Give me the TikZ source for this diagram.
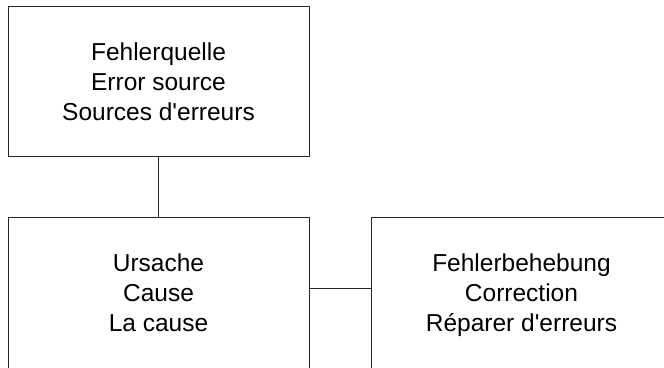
\documentclass[tikz,border=0pt]{standalone}
\usepackage{fontspec}
\setmainfont{Liberation Sans}
\newcommand\lnstrut{\rule[-6pt]{0pt}{30pt}}
\newcommand\lnstrutb{\rule[-10pt]{0pt}{30pt}}
\begin{document}
\begin{tikzpicture}[x=1pt,y=1pt,
  box/.style={draw=black!85, line width=0.9pt, minimum width=301pt, minimum height=150pt, align=center, font=\fontsize{24.5}{30}\selectfont, inner sep=0pt},
  lowbox/.style={box, minimum height=158pt},
  conn/.style={draw=black!85, line width=0.9pt}]
\useasboundingbox (0,0) rectangle (664,-367);
\node[box] (quelle) at (158.5,-81) {\lnstrut Fehlerquelle\\\lnstrut Error source\\\lnstrut Sources d\textquotesingle erreurs};
\node[lowbox] (ursache) at (158.5,-296) {\lnstrutb Ursache\\\lnstrutb Cause\\\lnstrutb La cause};
\node[lowbox] (fix) at (521.5,-296) {\lnstrutb Fehlerbehebung\\\lnstrutb Correction\\\lnstrutb Réparer d\textquotesingle erreurs};
\draw[conn] (quelle) -- (ursache);
\draw[conn] ([yshift=8pt]ursache.east) -- ([yshift=8pt]fix.west);
\end{tikzpicture}
\end{document}
